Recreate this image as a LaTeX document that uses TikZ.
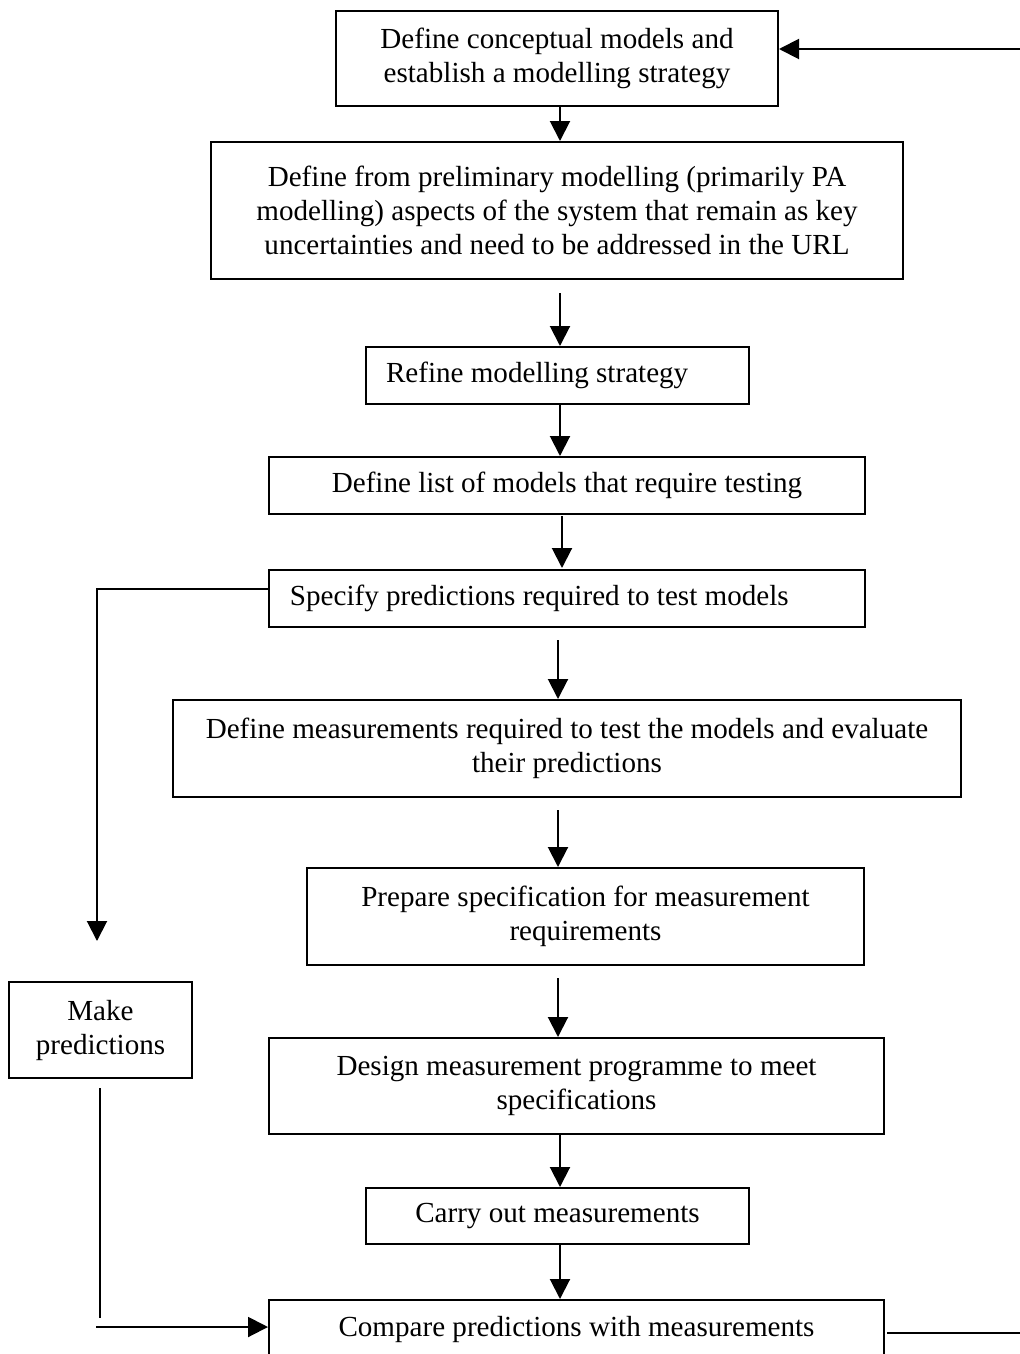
\documentclass[tikz,border=0pt]{standalone}
\usepackage{fontspec}
\setmainfont{Liberation Serif}
\usetikzlibrary{arrows.meta}
\begin{document}
\begin{tikzpicture}[x=0.4pt,y=-0.4pt,
  box/.style={draw,line width=0.8pt,inner sep=0pt,align=center,font=\fontsize{11.64}{13.6}\selectfont},
  sz/.style 2 args={minimum width={#1*0.4pt},minimum height={#2*0.4pt}},
  arr/.style={line width=0.8pt,-{Triangle[length=8pt,width=8pt]}},
  ln/.style={line width=0.8pt}]
\useasboundingbox (0,0) rectangle (1020,1354);
\clip (0,0) rectangle (1020,1354);
\node[box,sz={442}{95}] (b1) at (557,58.5) {Define conceptual models and\\establish a modelling strategy};
\node[box,sz={692}{137}] (b2) at (557,210.5) {Define from preliminary modelling (primarily PA\\modelling) aspects of the system that remain as key\\uncertainties and need to be addressed in the URL};
\node[box,sz={383}{57},text width=137.2pt,align=flush left] (b3) at (557.5,375.5) {Refine modelling strategy};
\node[box,sz={596}{57}] (b4) at (567,485.5) {Define list of models that require testing};
\node[box,sz={596}{57},text width=221.6pt,align=flush left] (b5) at (567,598.5) {Specify predictions required to test models};
\node[box,sz={788}{97}] (b6) at (567,748.5) {Define measurements required to test the models and evaluate\\their predictions};
\node[box,sz={557}{97}] (b7) at (585.5,916.5) {Prepare specification for measurement\\requirements};
\node[box,sz={183}{96}] (b8) at (100.5,1030) {Make\\predictions};
\node[box,sz={615}{96}] (b9) at (576.5,1086) {Design measurement programme to meet\\specifications};
\node[box,sz={383}{56}] (b10) at (557.5,1216) {Carry out measurements};
\node[box,sz={615}{58}] (b11) at (576.5,1329) {Compare predictions with measurements};
% vertical arrows
\coordinate (x560) at (560,0);
\coordinate (x558) at (558,0);
\draw[arr] (b1.south -| x560) -- (b2.north -| x560);
\coordinate (s2) at (560,293);
\draw[arr] (s2) -- (b3.north -| x560);
\draw[arr] (b3.south -| x560) -- (b4.north -| x560);
\coordinate (s4) at (562,516);
\draw[arr] (s4) -- (562,568);
\coordinate (s5) at (558,640);
\draw[arr] (s5) -- (b6.north -| x558);
\coordinate (s6) at (558,810);
\draw[arr] (s6) -- (b7.north -| x558);
\coordinate (s7) at (558,978);
\draw[arr] (s7) -- (b9.north -| x558);
\draw[arr] (b9.south -| x560) -- (b10.north -| x560);
\draw[arr] (b10.south -| x560) -- (b11.north -| x560);
% left loop
\coordinate (l0) at (269,589);
\coordinate (l1) at (97,941);
\draw[arr] (l0) -- (97,589) -- (l1);
\coordinate (m0) at (100,1088);
\coordinate (m1) at (100,1318);
\draw[ln] (m0) -- (m1);
\coordinate (m2) at (96,1327);
\draw[arr] (m2) -- (b11.west |- m2);
% right loop
\coordinate (r0) at (887,1333);
\coordinate (r1) at (1022,1333);
\draw[ln] (r0) -- (r1);
\coordinate (r2) at (1022,49);
\draw[arr] (r2) -- (b1.east |- r2);
\end{tikzpicture}
\end{document}
